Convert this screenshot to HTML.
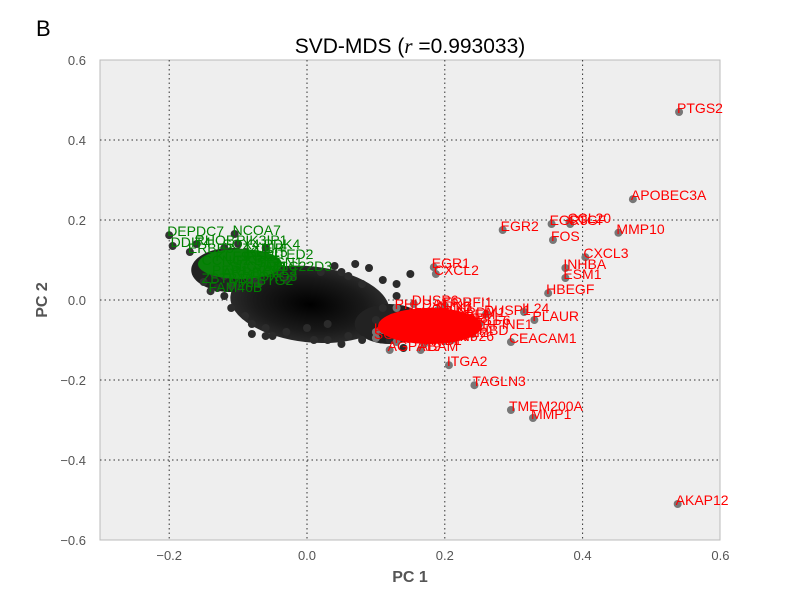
<!DOCTYPE html>
<html><head><meta charset="utf-8"><style>
body{margin:0;background:#fff;width:800px;height:600px;overflow:hidden}
svg text{font-family:"Liberation Sans","DejaVu Sans",sans-serif}
</style></head><body>
<svg id="chart" width="800" height="600" xmlns="http://www.w3.org/2000/svg">
<text x="36" y="36" font-size="22" fill="#000">B</text>
<text x="410" y="53" font-size="21" text-anchor="middle" fill="#000">SVD-MDS (<tspan font-style="italic" font-family="Liberation Serif">r</tspan> =0.993033)</text>
<rect x="100" y="60" width="620" height="480" fill="#eeeeee" stroke="#bbb"/>
<g id="grid"></g><g id="ticks"></g>
<defs><radialGradient id="bg" cx="50%" cy="50%" r="50%"><stop offset="0" stop-color="#000"/><stop offset="0.7" stop-color="#1a1a1a"/><stop offset="1" stop-color="#2a2a2a"/></radialGradient></defs>
<g id="blob"></g>
<g id="points"></g>
<g id="labels">
<ellipse cx="240" cy="264" rx="42" ry="15" fill="#0a800a"/>
<ellipse cx="430" cy="326" rx="52" ry="18" fill="#ff0000"/>
</g>
<text x="410" y="582" font-size="16" font-weight="bold" fill="#555" text-anchor="middle">PC 1</text>
<text x="47" y="300" font-size="16" font-weight="bold" fill="#555" text-anchor="middle" transform="rotate(-90 47 300)">PC 2</text>
</svg>
<script>
const xTicks=[-0.2,0.0,0.2,0.4,0.6];
const xTickLabels=["\u22120.2","0.0","0.2","0.4","0.6"];
const yTicks=[0.6,0.4,0.2,0.0,-0.2,-0.4,-0.6];
const yTickLabels=["0.6","0.4","0.2","0.0","\u22120.2","\u22120.4","\u22120.6"];
const redNames=["PTGS2","APOBEC3A","MMP10","CCL20","EGR3","CTGF","EGR2","FOS","CXCL3","INHBA","ESM1","HBEGF","EGR1","CXCL2","IL24","PLAUR","CEACAM1","ITGA2","TAGLN3","TMEM200A","MMP1","AKAP12","DUSP6","ERRFI1","DUSP1","PRDM1","AGPAT9","ABAM","RNF26","KLF4","ID2","AREG","SERPINE1","THBD","NR4A1","MYC","DKK1","LIF","IER3","SPRY4","PHLDA1","TRIB1","KLF6","SGK1","ETV5","HAS2","GEM","CYR61","DUSP5","SPRY2","TFPI2","FOSL1","JUNB","ATF3"];
const redX=[0.54,0.473,0.452,0.381,0.355,0.382,0.284,0.357,0.404,0.375,0.375,0.35,0.184,0.187,0.315,0.33,0.296,0.206,0.243,0.296,0.328,0.538,0.155,0.2,0.26,0.22,0.12,0.165,0.21,0.1,0.2,0.16,0.23,0.24,0.15,0.11,0.19,0.18,0.22,0.14,0.13,0.17,0.25,0.1,0.2,0.15,0.23,0.12,0.18,0.16,0.21,0.13,0.19,0.17];
const redY=[0.47,0.252,0.168,0.195,0.19,0.19,0.175,0.15,0.107,0.08,0.055,0.017,0.082,0.065,-0.03,-0.05,-0.105,-0.163,-0.213,-0.275,-0.295,-0.51,-0.01,-0.015,-0.035,-0.04,-0.125,-0.125,-0.1,-0.08,-0.06,-0.05,-0.07,-0.085,-0.045,-0.075,-0.03,-0.09,-0.055,-0.065,-0.02,-0.11,-0.06,-0.095,-0.1,-0.04,-0.045,-0.055,-0.075,-0.085,-0.09,-0.105,-0.025,-0.065];
const greenNames=["DEPDC7","NCOA7","DDIT4","FAM46B","KLF9","TXNIP","SESN1","ARRDC4","PDK4","CCNG2","FOXO3","SLC7A11","TSC22D3","ZBTB16","IRS2","ERBB3","BTG2","PIK3IP1","SOX4","KLF15","RHOB","CITED2","PER1","FKBP5","YPEL3","MXI1"];
const greenX=[-0.2,-0.105,-0.195,-0.14,-0.13,-0.09,-0.07,-0.12,-0.06,-0.15,-0.08,-0.11,-0.05,-0.15,-0.09,-0.17,-0.07,-0.1,-0.12,-0.085,-0.16,-0.06,-0.135,-0.1,-0.075,-0.11];
const greenY=[0.162,0.165,0.135,0.022,0.1,0.12,0.085,0.06,0.13,0.09,0.05,0.075,0.075,0.045,0.1,0.12,0.04,0.14,0.13,0.11,0.14,0.105,0.065,0.09,0.065,0.035];
const blackX=[-0.13,-0.12,-0.11,-0.09,-0.08,-0.06,-0.05,-0.03,0.01,0.03,0.05,0.06,0.08,0.1,0.12,0.14,0.15,0.09,0.07,0.04,0.02,-0.02,-0.04,-0.07,-0.1,0.13,0.11,0.06,0.05,-0.06,0.0,0.03,0.08,0.1,-0.08,0.11,0.13,-0.03];
const blackY=[0.03,0.01,-0.02,-0.04,-0.06,-0.07,-0.09,-0.08,-0.1,-0.1,-0.11,-0.09,-0.1,-0.08,-0.1,-0.12,0.065,0.08,0.09,0.085,0.07,0.06,0.065,0.05,0.03,0.04,0.05,0.06,0.07,-0.09,-0.07,-0.06,0.04,-0.05,-0.085,-0.02,0.01,0.05];
const X=v=>307+v*689, Y=v=>300-v*400;
const NS="http://www.w3.org/2000/svg";
function mk(tag,attrs,parent){const e=document.createElementNS(NS,tag);for(const k in attrs)e.setAttribute(k,attrs[k]);parent.appendChild(e);return e;}
const grid=document.getElementById('grid'),ticks=document.getElementById('ticks');
xTicks.forEach((t,i)=>{
 if(X(t)>101&&X(t)<719){const l=mk('line',{x1:X(t),x2:X(t),y1:60,y2:540,stroke:'#333','stroke-dasharray':'1.5,3','stroke-width':1},grid);
 
 }
 const tx=mk('text',{x:X(t),y:560,'font-size':13,fill:'#555','text-anchor':'middle'},ticks);tx.textContent=xTickLabels[i];
 
 
});
yTicks.forEach((t,i)=>{
 if(Y(t)>61&&Y(t)<539){const l=mk('line',{x1:100,x2:720,y1:Y(t),y2:Y(t),stroke:'#333','stroke-dasharray':'1.5,3','stroke-width':1},grid);
 
 }
 const tx=mk('text',{x:86,y:Y(t)+5,'font-size':13,fill:'#555','text-anchor':'end'},ticks);tx.textContent=yTickLabels[i];
 
 
});
const blob=document.getElementById('blob');
const b=mk('ellipse',{cx:X(0.005),cy:Y(-0.01),rx:80,ry:38,fill:'url(#bg)',transform:`rotate(6 ${X(0)} ${Y(0)})`},blob);


const b2=mk('ellipse',{cx:X(-0.11),cy:Y(0.075),rx:40,ry:22,fill:'#222'},blob);


const b3=mk('ellipse',{cx:X(0.12),cy:Y(-0.06),rx:35,ry:20,fill:'#222'},blob);


const pts=document.getElementById('points'),lab=document.getElementById('labels');
blackX.forEach((v,i)=>{const c=mk('circle',{cx:X(v),cy:Y(blackY[i]),r:4,fill:'#2b2b2b'},pts);
 
 });
function series(xs,ys,names,col,ptcol){
 xs.forEach((v,i)=>{
  const c=mk('circle',{cx:X(v),cy:Y(ys[i]),r:4,fill:ptcol},pts);
  
  
  const t=mk('text',{x:X(v)-2,y:Y(ys[i])+1,'font-size':14,fill:col},lab);t.textContent=names[i];
  
  
 });
}
series(greenX,greenY,greenNames,'#008000','#333');
series(redX,redY,redNames,'#ff0000','#777');
</script>
</body></html>
